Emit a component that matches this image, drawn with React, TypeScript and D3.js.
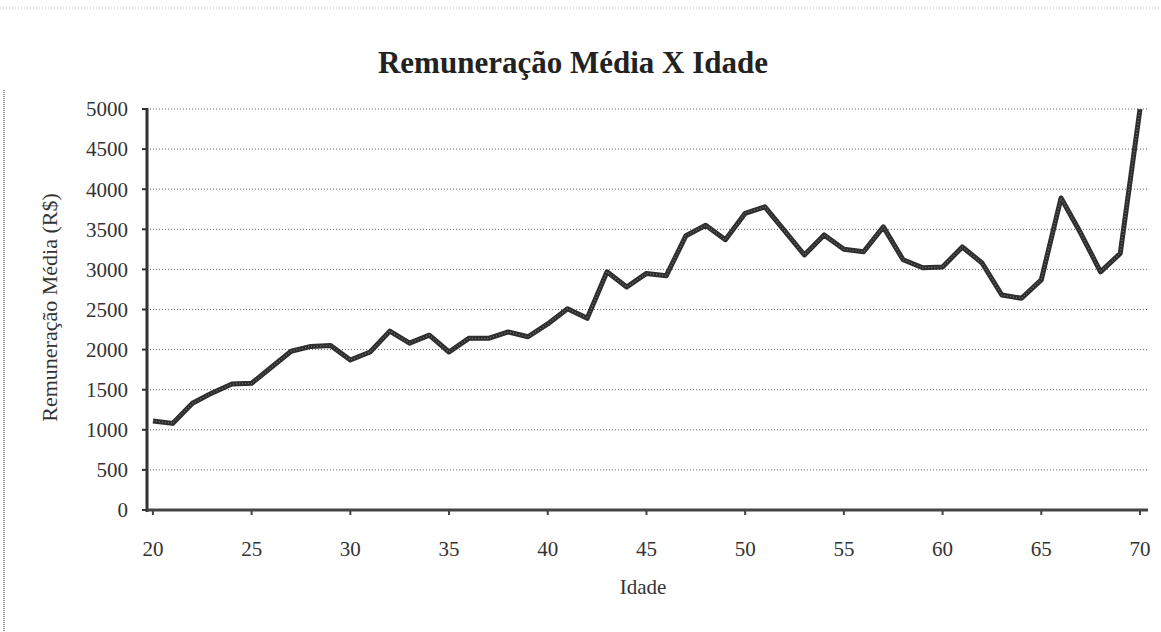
import React from "react";
import * as d3 from "d3";

const ages: number[] = [
  20, 21, 22, 23, 24, 25, 26, 27, 28, 29, 30, 31, 32, 33, 34, 35, 36, 37, 38, 39,
  40, 41, 42, 43, 44, 45, 46, 47, 48, 49, 50, 51, 52, 53, 54, 55, 56, 57, 58, 59,
  60, 61, 62, 63, 64, 65, 66, 67, 68, 69, 70,
];
const salaries: number[] = [
  1110, 1080, 1330, 1460, 1570, 1580, 1780, 1980, 2040, 2050, 1870, 1970, 2230, 2080, 2180, 1970, 2140, 2140, 2220, 2160,
  2320, 2510, 2390, 2970, 2780, 2950, 2920, 3420, 3550, 3370, 3700, 3780, 3480, 3180, 3430, 3250, 3220, 3530, 3120, 3020,
  3030, 3280, 3080, 2680, 2640, 2870, 3890, 3450, 2970, 3200, 5000,
];
const xTicks: number[] = [20, 25, 30, 35, 40, 45, 50, 55, 60, 65, 70];
const yTicks: number[] = [0, 500, 1000, 1500, 2000, 2500, 3000, 3500, 4000, 4500, 5000];

const title = "Remuneração Média X Idade";
const xTitle = "Idade";
const yTitle = "Remuneração Média (R$)";

export default function App() {
  const W = 1161;
  const H = 632;
  const left = 147;
  const right = 1148;
  const top = 109;
  const bottom = 510;
  const x = d3.scaleLinear().domain([19.7, 70]).range([left, 1140]);
  const y = d3.scaleLinear().domain([0, 5000]).range([bottom, top]);
  const data = ages.map((a, i) => [a, salaries[i]] as [number, number]);
  const line = d3
    .line<[number, number]>()
    .x((d) => x(d[0]))
    .y((d) => y(d[1]));
  const font = "'Liberation Serif', 'DejaVu Serif', serif";

  return (
    <svg
      width={W}
      height={H}
      style={{ position: "absolute", left: 0, top: 0, background: "#fff" }}
      fontFamily={font}
    >
      <rect width={W} height={H} fill="#fff" />
      {/* scan edge artifacts */}
      <line x1={4} x2={4} y1={90} y2={632} stroke="#999" strokeWidth={2} strokeDasharray="1,1" />
      <line x1={0} x2={1161} y1={8} y2={8} stroke="#bbb" strokeWidth={1} strokeDasharray="1,2" />

      <text x={573} y={73} textAnchor="middle" fontSize={31} fontWeight="bold" fill="#222">
        {title}
      </text>

      {/* gridlines */}
      {yTicks
        .filter((t) => t > 0)
        .map((t) => (
          <line
            key={"g" + t}
            x1={left}
            x2={right}
            y1={y(t)}
            y2={y(t)}
            stroke="#666"
            strokeWidth={1}
            strokeDasharray="1,2"
          />
        ))}

      {/* axes */}
      <line x1={left} x2={left} y1={top - 1} y2={bottom + 2} stroke="#333" strokeWidth={3} />
      <line x1={left - 1} x2={right} y1={bottom} y2={bottom} stroke="#444" strokeWidth={3} />

      {yTicks.map((t) => (
        <g key={"y" + t}>
          <line x1={left - 5} x2={left} y1={y(t)} y2={y(t)} stroke="#333" strokeWidth={2} />
          <text x={128} y={y(t)} dy="0.35em" textAnchor="end" fontSize={21} fill="#333">
            {t}
          </text>
        </g>
      ))}
      {xTicks.map((t) => (
        <g key={"x" + t}>
          <line x1={x(t)} x2={x(t)} y1={bottom} y2={bottom + 5} stroke="#444" strokeWidth={2} />
          <text x={x(t)} y={549} dy="0.35em" textAnchor="middle" fontSize={21} fill="#333">
            {t}
          </text>
        </g>
      ))}

      <text x={643} y={587} dy="0.35em" textAnchor="middle" fontSize={21} fill="#333">
        {xTitle}
      </text>
      <text
        transform={`translate(49, ${(top + bottom) / 2 - 2}) rotate(-90)`}
        textAnchor="middle"
        dy="0.35em"
        fontSize={22}
        fill="#333"
      >
        {yTitle}
      </text>

      <path d={line(data) ?? ""} fill="none" stroke="#2e2e2e" strokeWidth={5} strokeLinejoin="round" />
      <path d={line(data) ?? ""} fill="none" stroke="#777" strokeWidth={1.2} strokeDasharray="1,2" strokeLinejoin="round" />
    </svg>
  );
}
